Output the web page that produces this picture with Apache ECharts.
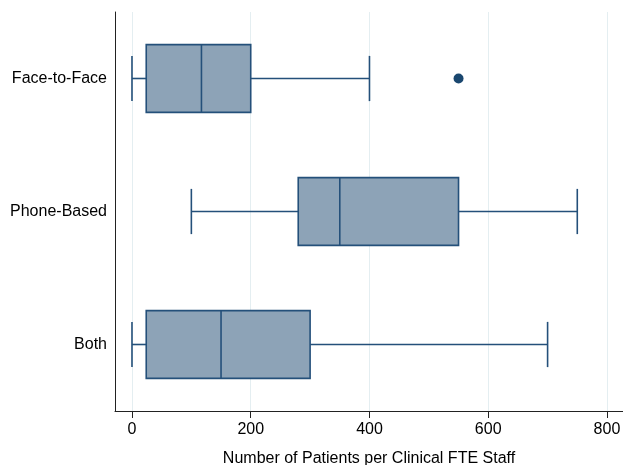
<!DOCTYPE html>
<html>
<head>
<meta charset="utf-8">
<script src="https://cdn.jsdelivr.net/npm/echarts@6/dist/echarts.min.js"></script>
<style>
html,body{margin:0;padding:0;background:#fff;}
#chart{width:623px;height:465px;}
</style>
</head>
<body>
<div id="chart"></div>
<script>
const categories = ['Face-to-Face', 'Phone-Based', 'Both'];
const lowWhisker = [0, 100, 0];
const q1 = [24, 280, 24];
const median = [117, 350, 150];
const q3 = [200, 550, 300];
const highWhisker = [400, 750, 700];
const outlierCategories = ['Face-to-Face'];
const outlierValues = [550];
const xTicks = [0, 200, 400, 600, 800];
const xTitle = 'Number of Patients per Clinical FTE Staff';

const FONT = '"Liberation Sans", Arial, Helvetica, sans-serif';
const LINE = '#24507A';
const FILL = '#8DA3B7';

const boxData = categories.map((c, i) => [i, lowWhisker[i], q1[i], median[i], q3[i], highWhisker[i]]);
const outlierData = outlierCategories.map((c, i) => [outlierValues[i], c]);

function renderItem(params, api) {
  const ci = api.value(0);
  const pLow = api.coord([api.value(1), ci]);
  const pQ1 = api.coord([api.value(2), ci]);
  const pMed = api.coord([api.value(3), ci]);
  const pQ3 = api.coord([api.value(4), ci]);
  const pHigh = api.coord([api.value(5), ci]);
  const band = api.size([0, 1])[1];
  const bh = band * 0.51;
  const ch = band * 0.34;
  const cy = pMed[1];
  const ls = { stroke: LINE, lineWidth: 1.6, fill: null };
  return {
    type: 'group',
    children: [
      { type: 'line', shape: { x1: pLow[0], y1: cy, x2: pQ1[0], y2: cy }, style: ls },
      { type: 'line', shape: { x1: pQ3[0], y1: cy, x2: pHigh[0], y2: cy }, style: ls },
      { type: 'line', shape: { x1: pLow[0], y1: cy - ch / 2, x2: pLow[0], y2: cy + ch / 2 }, style: ls },
      { type: 'line', shape: { x1: pHigh[0], y1: cy - ch / 2, x2: pHigh[0], y2: cy + ch / 2 }, style: ls },
      { type: 'rect', shape: { x: pQ1[0], y: cy - bh / 2, width: pQ3[0] - pQ1[0], height: bh },
        style: { fill: FILL, stroke: LINE, lineWidth: 1.6 } },
      { type: 'line', shape: { x1: pMed[0], y1: cy - bh / 2, x2: pMed[0], y2: cy + bh / 2 }, style: ls }
    ]
  };
}

const chart = echarts.init(document.getElementById('chart'), null, { renderer: 'canvas' });
chart.setOption({
  backgroundColor: '#ffffff',
  animation: false,
  textStyle: { fontFamily: FONT },
  grid: { left: 115, right: 0, top: 12, bottom: 54, containLabel: false, outerBoundsMode: 'none' },
  xAxis: {
    type: 'value',
    min: -28.6,
    max: 827,
    name: xTitle,
    nameLocation: 'middle',
    nameGap: 40,
    nameTextStyle: { fontSize: 16, color: '#000', fontFamily: FONT },
    axisLine: { show: true, onZero: false, lineStyle: { color: '#222', width: 1 } },
    axisTick: { show: true, length: 7, customValues: xTicks, lineStyle: { color: '#222' } },
    axisLabel: { customValues: xTicks, fontSize: 16, color: '#000', margin: 11, fontFamily: FONT },
    splitLine: { show: true, lineStyle: { color: '#E4EEF1', width: 1 } }
  },
  yAxis: {
    type: 'category',
    data: categories,
    inverse: true,
    axisLine: { show: true, onZero: false, lineStyle: { color: '#222', width: 1 } },
    axisTick: { show: false },
    axisLabel: { fontSize: 16, color: '#000', margin: 8, fontFamily: FONT },
    splitLine: { show: false }
  },
  series: [
    {
      type: 'custom',
      renderItem: renderItem,
      encode: { x: [1, 2, 3, 4, 5], y: 0 },
      data: boxData,
      z: 3
    },
    {
      type: 'scatter',
      data: outlierData,
      symbol: 'circle',
      symbolSize: 10,
      itemStyle: { color: '#1A476F', opacity: 1 },
      z: 4
    }
  ]
});
</script>
</body>
</html>
